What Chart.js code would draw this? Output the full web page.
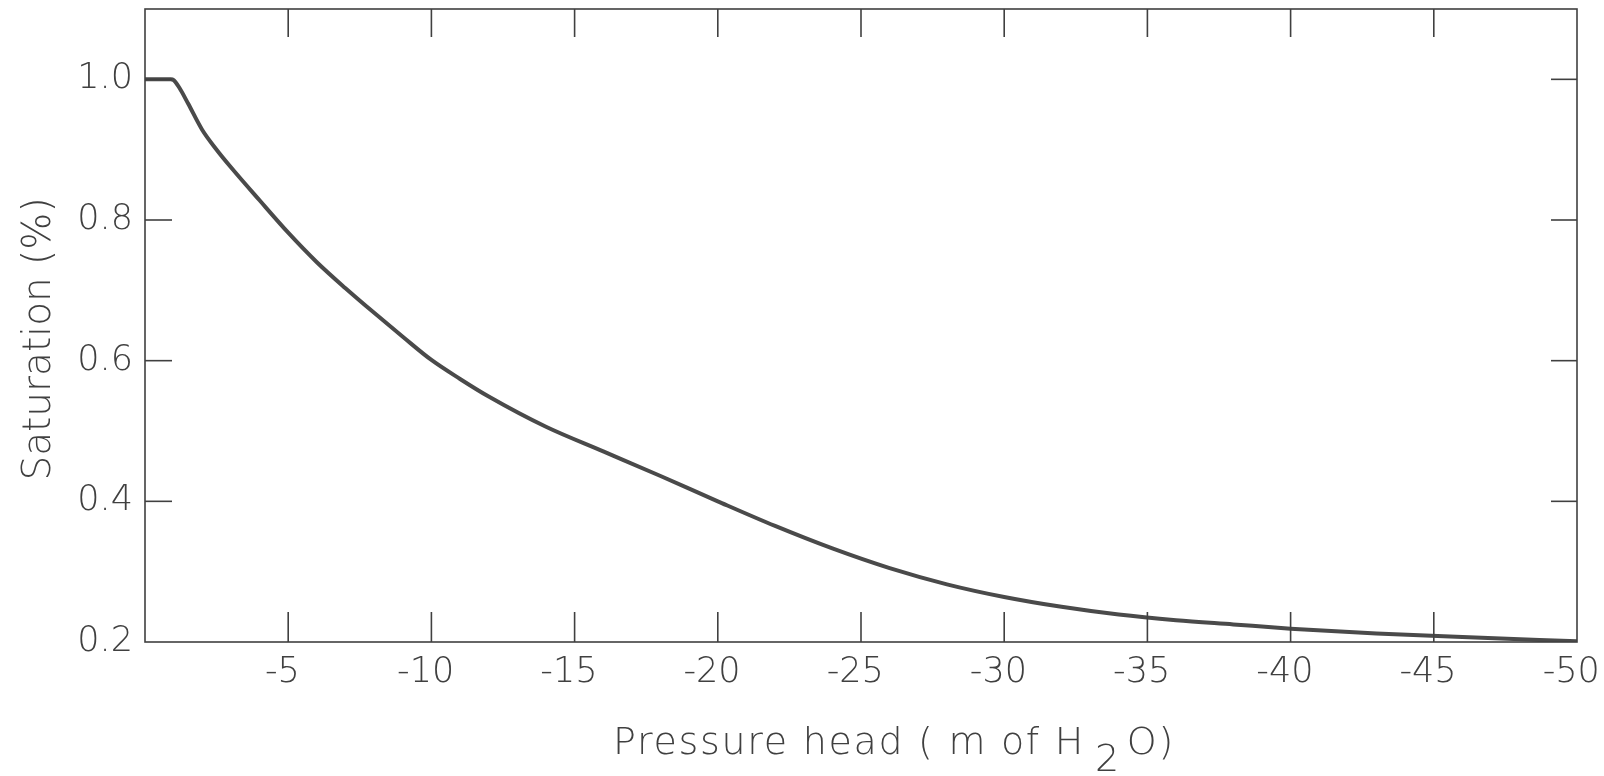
<!DOCTYPE html>
<html>
<head>
<meta charset="utf-8">
<title>Saturation vs pressure head</title>
<script src="https://cdn.jsdelivr.net/npm/chart.js@4/dist/chart.umd.min.js"></script>
<style>
  html, body { margin: 0; padding: 0; background: #fff; }
  #wrap { width: 1604px; height: 776px; position: relative; }
</style>
</head>
<body>
<div id="wrap"><canvas id="curve"></canvas></div>
<script>
// Pressure head (m of water) and the matching saturation
var headValues = [0, -0.9, -1.0, -1.2, -1.5, -2, -2.5, -3, -4, -5, -6, -7, -8, -9, -10, -11, -12, -14,
  -16, -18, -20, -22, -24, -26, -28, -30, -32, -34, -36, -38, -40, -43, -46, -50];
var saturationValues = [1.0, 1.0, 0.999, 0.988, 0.966, 0.928, 0.9, 0.875, 0.828, 0.782, 0.74, 0.703,
  0.668, 0.634, 0.601, 0.574, 0.549, 0.506, 0.471, 0.436, 0.4, 0.365, 0.333, 0.305, 0.282, 0.264,
  0.25, 0.239, 0.231, 0.225, 0.219, 0.212, 0.207, 0.201];

// tick marks drawn inward on the frame
var xTickValues = [-5, -10, -15, -20, -25, -30, -35, -40, -45];
var yTickValues = [0.4, 0.6, 0.8, 1.0];

var xTitleMain = 'Pressure head ( m of H';
var xTitleSub = '2';
var xTitleEnd = 'O)';
var yTitle = 'Saturation (%)';

var INK = '#404040';
var FONT = '"DejaVu Sans", "Liberation Sans", sans-serif';

function stroke(ctx, x1, y1, x2, y2) {
  ctx.beginPath();
  ctx.moveTo(x1, y1);
  ctx.lineTo(x2, y2);
  ctx.stroke();
}

var framePlugin = {
  id: 'frameTicks',
  afterDraw: function (chart) {
    var ctx = chart.ctx;
    var a = chart.chartArea;
    var xs = chart.scales.x;
    var ys = chart.scales.y;
    ctx.save();
    ctx.strokeStyle = INK;
    ctx.lineWidth = 1.6;
    ctx.strokeRect(a.left, a.top, a.right - a.left, a.bottom - a.top);

    xTickValues.forEach(function (v) {
      var px = xs.getPixelForValue(v);
      stroke(ctx, px, a.bottom, px, a.bottom - 30);
      stroke(ctx, px, a.top, px, a.top + 28);
    });
    yTickValues.forEach(function (v) {
      var py = ys.getPixelForValue(v);
      stroke(ctx, a.left, py, a.left + 27, py);
      stroke(ctx, a.right, py, a.right - 26, py);
    });

    // x title with lowered subscript
    ctx.fillStyle = INK;
    ctx.font = '200 38px ' + FONT;
    ctx.letterSpacing = '1.7px';
    ctx.textBaseline = 'alphabetic';
    ctx.textAlign = 'left';
    var tx = 613, ty = 754;
    ctx.fillText(xTitleMain, tx, ty);
    tx += ctx.measureText(xTitleMain).width + 10;
    ctx.fillText(xTitleSub, tx, ty + 17);
    tx += ctx.measureText(xTitleSub).width + 6;
    ctx.fillText(xTitleEnd, tx, ty);

    // rotated y title
    ctx.letterSpacing = '0px';
    ctx.translate(50, 339);
    ctx.rotate(-Math.PI / 2);
    ctx.textAlign = 'center';
    ctx.font = '200 39px ' + FONT;
    ctx.fillText(yTitle, 0, 0);
    ctx.restore();
  }
};

new Chart(document.getElementById('curve'), {
  type: 'line',
  data: {
    datasets: [{
      data: headValues.map(function (h, i) { return { x: h, y: saturationValues[i] }; }),
      borderColor: '#4a4a4a',
      borderWidth: 4,
      pointRadius: 0,
      cubicInterpolationMode: 'monotone',
      fill: false
    }]
  },
  options: {
    responsive: true,
    maintainAspectRatio: false,
    animation: false,
    layout: { padding: { top: 9, right: 27, left: 0, bottom: 0 } },
    plugins: { legend: { display: false }, tooltip: { enabled: false } },
    scales: {
      x: {
        type: 'linear',
        min: -50,
        max: 0,
        reverse: true,
        grid: { display: false, drawTicks: false },
        border: { display: false },
        ticks: {
          stepSize: 5,
          padding: 10,
          color: INK,
          font: { family: FONT, size: 35, weight: '200' },
          maxRotation: 0,
          // trailing space balances the minus so the digits sit centred on the tick
          callback: function (v) { return v === 0 ? '' : String(v) + '\u2004'; }
        },
        afterFit: function (scale) {
          scale.height = 134;
          scale.paddingLeft = 0;
          scale.paddingRight = 0;
        }
      },
      y: {
        min: 0.2,
        max: 1.1,
        grid: { display: false, drawTicks: false },
        border: { display: false },
        ticks: {
          stepSize: 0.2,
          padding: 12,
          color: INK,
          font: { family: FONT, size: 35, weight: '200' },
          callback: function (v) { return v > 1.05 ? '' : Number(v).toFixed(1); }
        },
        afterFit: function (scale) {
          scale.width = 145;
          scale.paddingTop = 0;
          scale.paddingBottom = 0;
        }
      }
    }
  },
  plugins: [framePlugin]
});
</script>
</body>
</html>
